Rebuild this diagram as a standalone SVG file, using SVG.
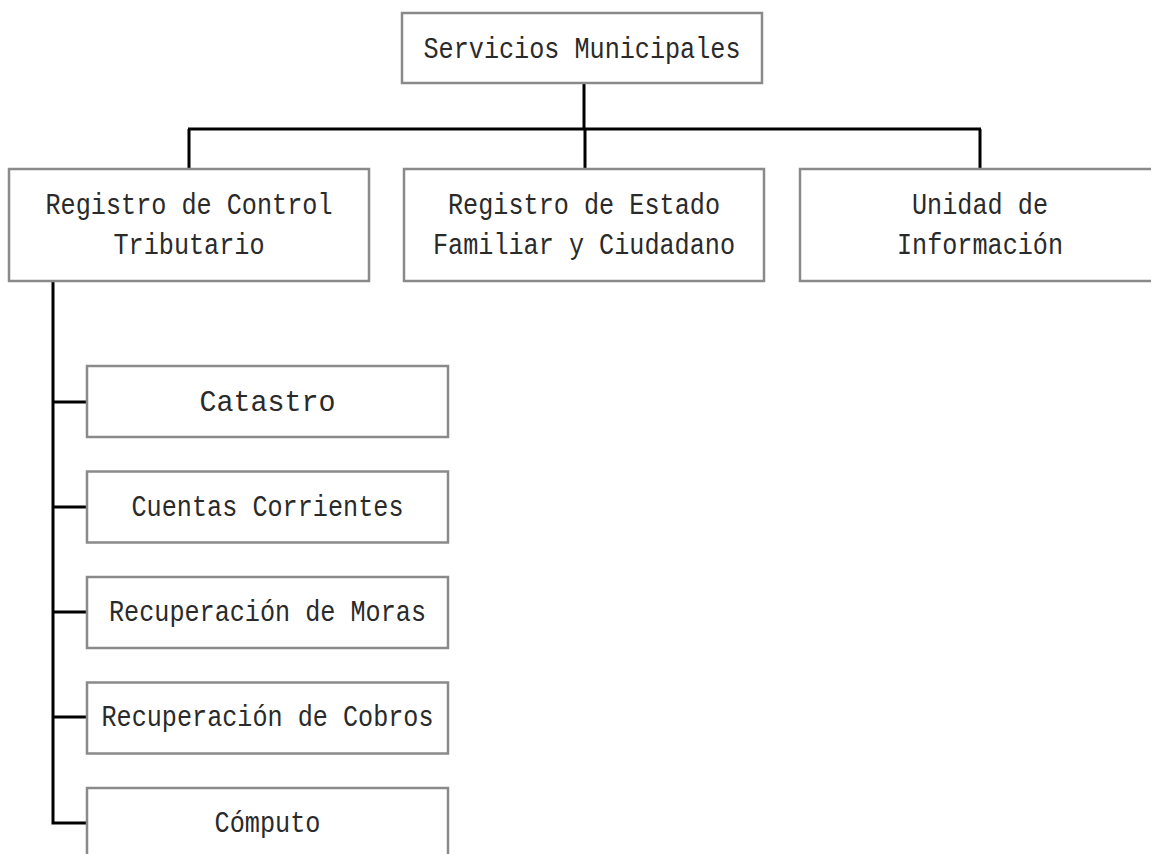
<svg xmlns="http://www.w3.org/2000/svg" width="1151" height="854" viewBox="0 0 1151 854">
<style>
.box{fill:#fff;stroke:#8a8a8a;stroke-width:2.5}
.t{font-family:"Liberation Mono","Courier New",monospace;font-size:30px;fill:#2a2a2a;text-anchor:middle}
.c{fill:none;stroke:#000;stroke-width:3}
</style>
<rect width="1151" height="854" fill="#fff"/>
<g id="connectors">
<path class="c" d="M584 83V129M188 129H981M189 129V169M585 129V169M980 129V169"/>
<path class="c" d="M53 282V823H87M53 402H87M53 507H87M53 612H87M53 717H87"/>
</g>
<g id="servicios">
<rect class="box" x="402" y="13" width="360" height="70"/>
<text class="t" x="582" y="57.5" textLength="317" lengthAdjust="spacingAndGlyphs">Servicios Municipales</text>
</g>
<g id="control-tributario">
<rect class="box" x="9" y="169" width="360" height="112"/>
<text class="t" x="189" y="214" textLength="287" lengthAdjust="spacingAndGlyphs">Registro de Control</text>
<text class="t" x="189" y="254" textLength="151" lengthAdjust="spacingAndGlyphs">Tributario</text>
</g>
<g id="estado-familiar">
<rect class="box" x="404" y="169" width="360" height="112"/>
<text class="t" x="584" y="214" textLength="272" lengthAdjust="spacingAndGlyphs">Registro de Estado</text>
<text class="t" x="584" y="254" textLength="302" lengthAdjust="spacingAndGlyphs">Familiar y Ciudadano</text>
</g>
<g id="unidad-informacion">
<rect class="box" x="800" y="169" width="362" height="112"/>
<text class="t" x="980" y="214" textLength="136" lengthAdjust="spacingAndGlyphs">Unidad de</text>
<text class="t" x="980" y="254" textLength="166" lengthAdjust="spacingAndGlyphs">Información</text>
</g>
<g id="catastro">
<rect class="box" x="87" y="366" width="361" height="71"/>
<text class="t" x="267.5" y="410.5" textLength="136" lengthAdjust="spacingAndGlyphs">Catastro</text>
</g>
<g id="cuentas">
<rect class="box" x="87" y="471.5" width="361" height="71"/>
<text class="t" x="267.5" y="516" textLength="272" lengthAdjust="spacingAndGlyphs">Cuentas Corrientes</text>
</g>
<g id="moras">
<rect class="box" x="87" y="577" width="361" height="71"/>
<text class="t" x="267.5" y="621" textLength="317" lengthAdjust="spacingAndGlyphs">Recuperación de Moras</text>
</g>
<g id="cobros">
<rect class="box" x="87" y="682.5" width="361" height="71"/>
<text class="t" x="267.5" y="726" textLength="332" lengthAdjust="spacingAndGlyphs">Recuperación de Cobros</text>
</g>
<g id="computo">
<rect class="box" x="87" y="788" width="361" height="71"/>
<text class="t" x="267.5" y="832" textLength="106" lengthAdjust="spacingAndGlyphs">Cómputo</text>
</g>
</svg>
